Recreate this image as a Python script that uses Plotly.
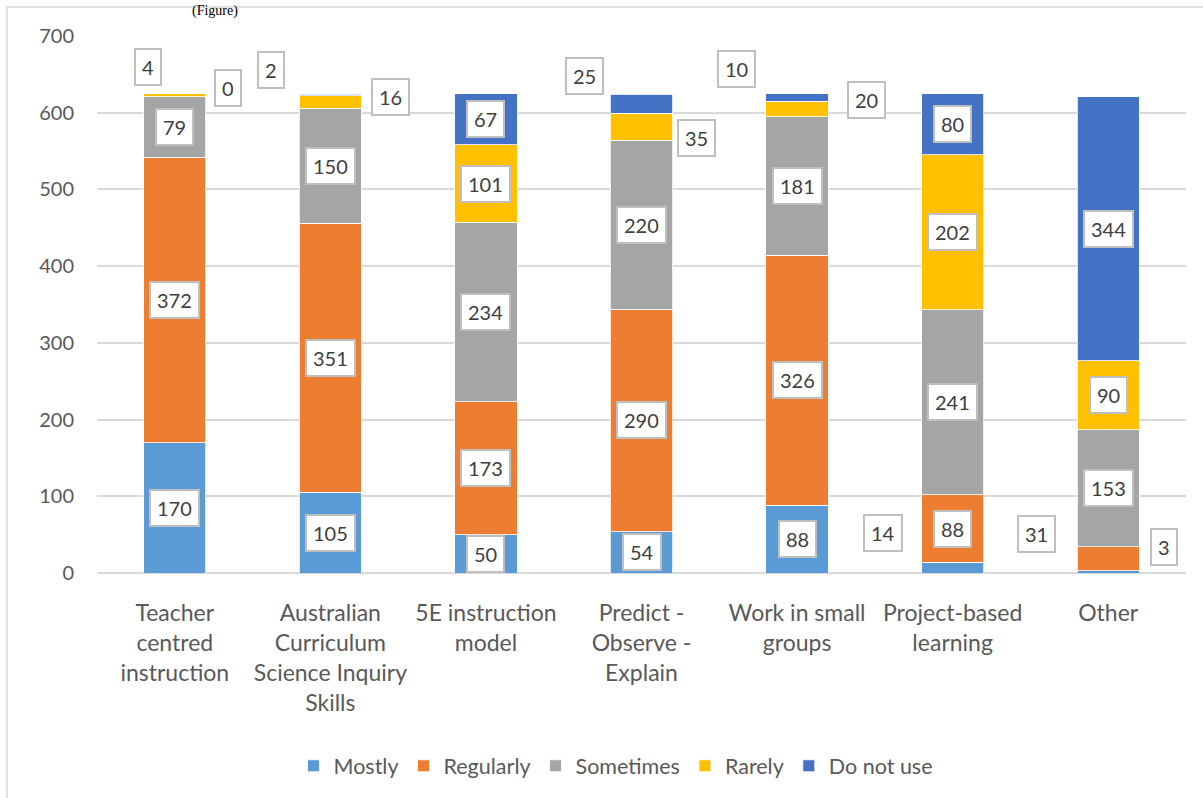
import plotly.graph_objects as go

categories = ["Teacher<br>centred<br>instruction",
              "Australian<br>Curriculum<br>Science Inquiry<br>Skills",
              "5E instruction<br>model",
              "Predict -<br>Observe -<br>Explain",
              "Work in small<br>groups",
              "Project-based<br>learning",
              "Other"]
series_names = ["Mostly", "Regularly", "Sometimes", "Rarely", "Do not use"]
mostly = [170, 105, 50, 54, 88, 14, 3]
regularly = [372, 351, 173, 290, 326, 88, 31]
sometimes = [79, 150, 234, 220, 181, 241, 153]
rarely = [4, 16, 101, 35, 20, 202, 90]
do_not_use = [0, 2, 67, 25, 10, 80, 344]
y_ticks = [0, 100, 200, 300, 400, 500, 600, 700]

series_values = [mostly, regularly, sometimes, rarely, do_not_use]
colors = ["#5B9BD5", "#ED7D31", "#A5A5A5", "#FFC000", "#4472C4"]

# labels drawn outside the bar (pixel offsets from segment middle)
outside_offsets = {
    (3, 0): (-27, 28), (4, 0): (53, 6),
    (3, 1): (60, 5), (4, 1): (-59, 25),
    (3, 3): (55, -11), (4, 3): (-57, 28),
    (3, 4): (69, 9), (4, 4): (-61, 28),
    (0, 5): (-70, 35),
    (0, 6): (56, 25), (1, 6): (-72, 25),
}

FONT = "Lato, Calibri, Carlito, sans-serif"
W, H = 1203, 798
L, R, T, B = 97, 17, 35.5, 225
PW, PH = W - L - R, H - T - B


def px_x(px):
    return (px - L) / PW


def px_y(py):
    return (H - B - py) / PH


fig = go.Figure()
for name, vals, col in zip(series_names, series_values, colors):
    fig.add_trace(go.Bar(name=name, x=categories, y=vals,
                         marker=dict(color=col, line=dict(color="white", width=0.8))))

annotations = []
for ci, cat in enumerate(categories):
    base = 0
    for si, vals in enumerate(series_values):
        v = vals[ci]
        mid = base + v / 2
        base += v
        dx, dy = outside_offsets.get((si, ci), (0, 0))
        annotations.append(dict(
            x=cat, y=mid, xref="x", yref="y", text=str(v), showarrow=False,
            xshift=dx, yshift=dy,
            font=dict(family=FONT, size=20, color="#404040"),
            bgcolor="white", bordercolor="#BFBFBF", borderwidth=2, borderpad=6,
            height=22))

fig.update_layout(
    width=W, height=H,
    margin=dict(l=L, r=R, t=T, b=B),
    barmode="stack", bargap=0.6,
    plot_bgcolor="white", paper_bgcolor="white",
    font=dict(family=FONT, size=20, color="#595959"),
    annotations=annotations,
    legend=dict(orientation="h", x=px_x(616), xanchor="center", y=px_y(766), yanchor="middle",
                font=dict(family=FONT, size=21.5, color="#595959"), traceorder="normal",
                itemclick=False),
    showlegend=True,
)
fig.add_annotation(x=px_x(215), y=px_y(0), xref="paper", yref="paper",
                   text="(Figure)", showarrow=False, yanchor="top", xanchor="center",
                   font=dict(family="Liberation Serif, Times New Roman, serif", size=14, color="black"))
fig.add_shape(type="rect", xref="paper", yref="paper",
              x0=px_x(7), x1=px_x(1215),
              y0=px_y(820), y1=px_y(6.5),
              line=dict(color="#D9D9D9", width=1.5), layer="below")
fig.update_yaxes(range=[0, 700], tickvals=y_ticks, showgrid=True, gridcolor="#D9D9D9",
                 gridwidth=1.5, zeroline=True, zerolinecolor="#D9D9D9", zerolinewidth=1.5,
                 ticklabelstandoff=22, tickfont=dict(family=FONT, size=20, color="#595959"))
fig.update_xaxes(showgrid=False, showline=False, ticklabelstandoff=24,
                 tickfont=dict(family=FONT, size=23, color="#595959"), tickangle=0)

fig.write_html("out.html", config={"displayModeBar": False},
               post_script="document.body.style.margin='0';")
